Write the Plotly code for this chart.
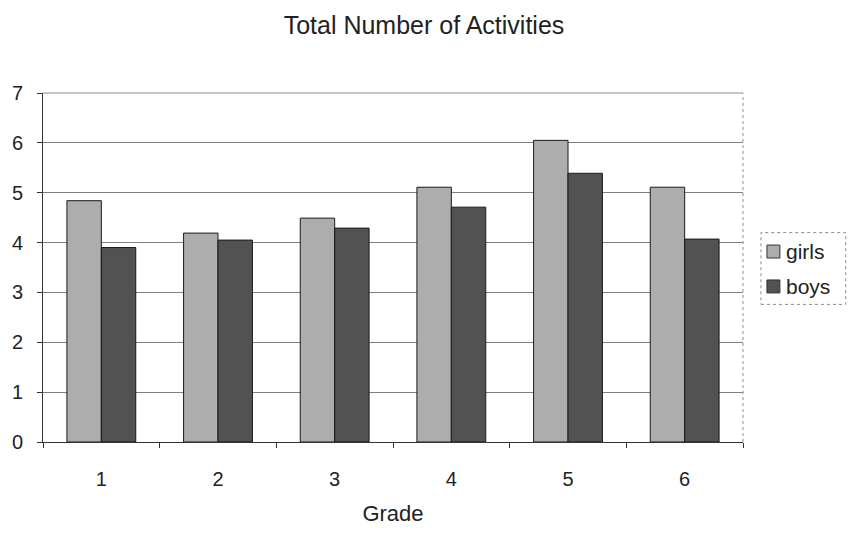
import plotly.graph_objects as go

# Average number of activities per grade, split by gender
grades = ["1", "2", "3", "4", "5", "6"]
girls = [4.84, 4.19, 4.49, 5.11, 6.05, 5.11]
boys = [3.90, 4.05, 4.29, 4.71, 5.39, 4.07]
series_names = ["girls", "boys"]
series_colors = ["#adadad", "#525252"]

FONT = "Liberation Sans, Arial, sans-serif"
W, H = 848, 533
M_L, M_R, M_T, M_B = 41, 105, 93, 90

fig = go.Figure()
for name, vals, col in zip(series_names, [girls, boys], series_colors):
    fig.add_trace(go.Bar(
        x=grades, y=vals, name=name, showlegend=False,
        marker=dict(color=col, line=dict(color="#1a1a1a", width=1)),
    ))

fig.update_layout(
    width=W, height=H,
    margin=dict(l=M_L, r=M_R, t=M_T, b=M_B),
    paper_bgcolor="white", plot_bgcolor="white",
    font=dict(family=FONT, size=20, color="#222"),
    barmode="group", bargap=0.41, bargroupgap=0,
    title=dict(text="Total Number of Activities", x=0.5, xref="container",
               xanchor="center", yref="container", y=1 - 25 / H,
               yanchor="middle", font=dict(size=25, family=FONT, color="#222")),
    showlegend=False,
)

fig.update_xaxes(
    type="category", tickson="boundaries", ticks="outside", ticklen=5,
    tickcolor="#333", showline=True, linecolor="#333", linewidth=1,
    showgrid=False, ticklabelstandoff=19,
    title=dict(text="Grade", font=dict(size=22, family=FONT), standoff=16),
    tickfont=dict(size=20),
)
fig.update_yaxes(
    range=[0, 7], dtick=1, ticks="outside", ticklen=5, tickcolor="#333",
    showline=True, linecolor="#333", linewidth=1, ticklabelstandoff=10,
    showgrid=True, gridcolor="#7f7f7f", gridwidth=1,
    zeroline=False, tickfont=dict(size=20),
)

# Dotted frame along the top and right of the plot area
fig.add_shape(type="line", xref="paper", yref="paper", x0=0, x1=1, y0=1, y1=1,
              line=dict(color="#8c8c8c", width=1))
fig.add_shape(type="line", xref="paper", yref="paper", x0=1, x1=1, y0=0, y1=1,
              line=dict(color="#8c8c8c", width=1, dash="dot"))

# Legend box on the right, drawn in paper coordinates
pw = W - M_L - M_R
ph = H - M_T - M_B
def px(x):
    return (x - M_L) / pw
def py(y):
    return (H - M_B - y) / ph

fig.add_shape(type="rect", xref="paper", yref="paper",
              x0=px(761), x1=px(846), y0=py(305), y1=py(233),
              line=dict(color="#8c8c8c", width=1, dash="dot"), fillcolor="white")
for i, (name, col) in enumerate(zip(series_names, series_colors)):
    yc = 252 + i * 35
    fig.add_shape(type="rect", xref="paper", yref="paper",
                  x0=px(767), x1=px(780), y0=py(yc + 6.5), y1=py(yc - 6.5),
                  line=dict(color="#333", width=1), fillcolor=col)
    fig.add_annotation(text=name, xref="paper", yref="paper",
                       x=px(784), y=py(yc), xanchor="left", yanchor="middle",
                       showarrow=False, font=dict(size=21, family=FONT, color="#222"))

fig.write_html("out.html")
